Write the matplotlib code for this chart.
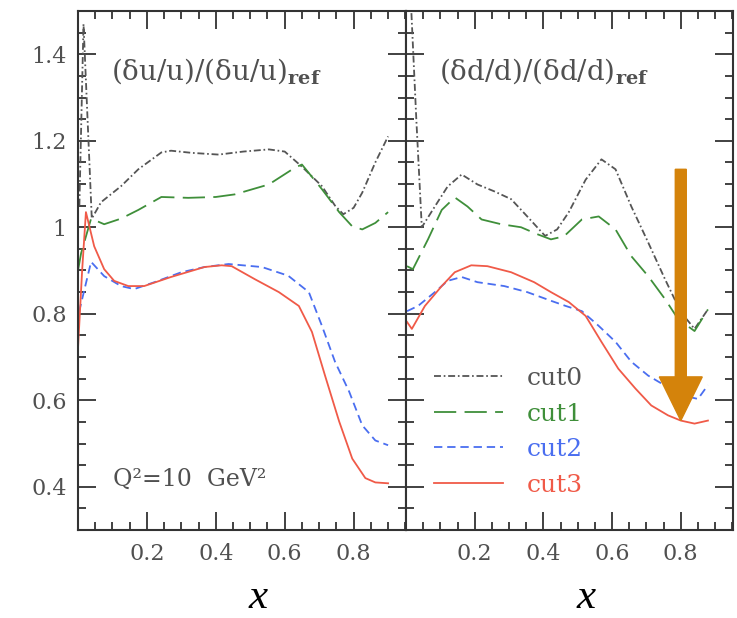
import matplotlib
matplotlib.use("Agg")
import matplotlib.pyplot as plt
from matplotlib.patches import FancyArrow
from matplotlib.ticker import MultipleLocator, FixedLocator

plt.rcParams['lines.scale_dashes'] = False
plt.rcParams['mathtext.fontset'] = 'dejavuserif'

# ---- data ----
# left panel: (du/u)/(du/u)_ref
cut0_u_x = [0.004, 0.016, 0.04, 0.067, 0.125, 0.175, 0.242, 0.27, 0.33, 0.408, 0.48, 0.554, 0.60, 0.65, 0.708, 0.746, 0.77, 0.80, 0.825, 0.863, 0.9]
cut0_u_y = [1.05, 1.47, 1.02, 1.058, 1.095, 1.134, 1.173, 1.177, 1.172, 1.168, 1.175, 1.18, 1.175, 1.14, 1.095, 1.05, 1.03, 1.045, 1.08, 1.15, 1.21]
cut1_u_x = [0.0, 0.009, 0.038, 0.076, 0.125, 0.175, 0.242, 0.32, 0.40, 0.455, 0.554, 0.63, 0.65, 0.708, 0.758, 0.796, 0.825, 0.863, 0.9]
cut1_u_y = [0.90, 0.94, 1.02, 1.007, 1.02, 1.04, 1.07, 1.068, 1.07, 1.076, 1.099, 1.138, 1.145, 1.088, 1.035, 1.002, 0.995, 1.01, 1.035]
cut2_u_x = [0.003, 0.038, 0.076, 0.125, 0.163, 0.222, 0.30, 0.367, 0.437, 0.534, 0.61, 0.67, 0.708, 0.746, 0.787, 0.825, 0.863, 0.9]
cut2_u_y = [0.804, 0.92, 0.887, 0.864, 0.857, 0.873, 0.896, 0.908, 0.915, 0.908, 0.888, 0.85, 0.772, 0.689, 0.62, 0.542, 0.507, 0.496]
cut3_u_x = [0.0, 0.012, 0.023, 0.047, 0.076, 0.105, 0.146, 0.192, 0.27, 0.367, 0.417, 0.446, 0.513, 0.583, 0.641, 0.679, 0.717, 0.758, 0.796, 0.834, 0.863, 0.9]
cut3_u_y = [0.72, 0.90, 1.035, 0.956, 0.903, 0.876, 0.864, 0.864, 0.885, 0.908, 0.912, 0.91, 0.88, 0.85, 0.818, 0.758, 0.657, 0.551, 0.465, 0.42, 0.41, 0.408]

# right panel: (dd/d)/(dd/d)_ref
cut0_d_x = [0.012, 0.03, 0.046, 0.084, 0.121, 0.162, 0.208, 0.257, 0.306, 0.353, 0.405, 0.44, 0.474, 0.523, 0.569, 0.61, 0.656, 0.705, 0.754, 0.80, 0.84, 0.879]
cut0_d_y = [1.56, 1.25, 1.0, 1.048, 1.094, 1.122, 1.099, 1.083, 1.065, 1.025, 0.98, 0.995, 1.035, 1.11, 1.157, 1.134, 1.048, 0.965, 0.88, 0.804, 0.765, 0.81]
cut1_d_x = [0.003, 0.02, 0.064, 0.104, 0.142, 0.179, 0.22, 0.277, 0.335, 0.382, 0.422, 0.46, 0.512, 0.561, 0.61, 0.656, 0.705, 0.754, 0.792, 0.84, 0.879]
cut1_d_y = [0.91, 0.903, 0.972, 1.04, 1.069, 1.048, 1.018, 1.007, 1.0, 0.984, 0.972, 0.979, 1.018, 1.025, 0.995, 0.933, 0.887, 0.834, 0.788, 0.76, 0.81]
cut2_d_x = [0.003, 0.035, 0.084, 0.121, 0.162, 0.208, 0.286, 0.353, 0.422, 0.465, 0.512, 0.561, 0.61, 0.656, 0.705, 0.754, 0.80, 0.85, 0.879]
cut2_d_y = [0.806, 0.818, 0.85, 0.876, 0.885, 0.873, 0.864, 0.85, 0.83, 0.818, 0.806, 0.772, 0.735, 0.689, 0.657, 0.634, 0.612, 0.603, 0.635]
cut3_d_x = [0.003, 0.017, 0.055, 0.104, 0.142, 0.19, 0.237, 0.306, 0.373, 0.422, 0.474, 0.523, 0.569, 0.618, 0.668, 0.714, 0.763, 0.80, 0.84, 0.879]
cut3_d_y = [0.781, 0.765, 0.818, 0.864, 0.896, 0.912, 0.91, 0.896, 0.873, 0.85, 0.827, 0.795, 0.735, 0.673, 0.627, 0.588, 0.565, 0.553, 0.546, 0.553]

labels = ['cut0', 'cut1', 'cut2', 'cut3']
colors = ['#555555', '#3f8f3a', '#4a6ef0', '#f05a48']
dashes = [(0, (5, 2, 1.2, 2)), (0, (16, 6)), (0, (6, 3.5)), '-']

xticks = [0.2, 0.4, 0.6, 0.8]
xtick_labels = ['0.2', '0.4', '0.6', '0.8']
yticks = [0.4, 0.6, 0.8, 1.0, 1.2, 1.4]
ytick_labels = ['0.4', '0.6', '0.8', '1', '1.2', '1.4']

serif = 'DejaVu Serif'
txt_col = '#505050'
spine_col = '#333333'

fig = plt.figure(figsize=(7.37, 6.18), dpi=100)
W, H = 737, 618
ax1 = fig.add_axes([78 / W, 1 - 530 / H, 328 / W, 519 / H])
ax2 = fig.add_axes([406 / W, 1 - 530 / H, 327 / W, 519 / H])

panels = [
    (ax1, [(cut0_u_x, cut0_u_y), (cut1_u_x, cut1_u_y), (cut2_u_x, cut2_u_y), (cut3_u_x, cut3_u_y)]),
    (ax2, [(cut0_d_x, cut0_d_y), (cut1_d_x, cut1_d_y), (cut2_d_x, cut2_d_y), (cut3_d_x, cut3_d_y)]),
]

for ax, series in panels:
    for (xs, ys), lab, c, ls in zip(series, labels, colors, dashes):
        ax.plot(xs, ys, color=c, linestyle=ls, lw=1.3, label=lab)
    ax.set_xlim(0, 0.952)
    ax.set_ylim(0.3, 1.5)
    ax.xaxis.set_major_locator(FixedLocator(xticks))
    ax.xaxis.set_minor_locator(MultipleLocator(0.05))
    ax.yaxis.set_major_locator(FixedLocator(yticks))
    ax.yaxis.set_minor_locator(MultipleLocator(0.05))
    ax.tick_params(which='both', direction='in', top=True, right=True,
                   color=spine_col, width=1.3)
    ax.tick_params(which='major', length=13)
    ax.tick_params(which='minor', length=6)
    ax.tick_params(axis='x', which='major', pad=9)
    ax.tick_params(axis='y', which='major', pad=8)
    for sp in ax.spines.values():
        sp.set_color(spine_col)
        sp.set_linewidth(1.5)
    ax.set_xticklabels(xtick_labels, family=serif, fontsize=16, color=txt_col)
    # big italic axis label under each panel
    ax.text(0.55, -0.168, 'x', transform=ax.transAxes, ha='center', va='bottom',
            family='Liberation Serif', style='italic', fontsize=31, color='black')

ax1.set_yticklabels(ytick_labels, family=serif, fontsize=16, color=txt_col)
ax2.set_yticklabels([])

ax1.text(0.1, 0.884, r'(δu/u)/(δu/u)$_{\mathbf{ref}}$', transform=ax1.transAxes,
         family=serif, fontsize=20, color=txt_col, va='center')
ax2.text(0.1, 0.884, r'(δd/d)/(δd/d)$_{\mathbf{ref}}$', transform=ax2.transAxes,
         family=serif, fontsize=20, color=txt_col, va='center')
ax1.text(0.108, 0.097, 'Q²=10  GeV²', transform=ax1.transAxes,
         family=serif, fontsize=17, color=txt_col, va='center')

leg = ax2.legend(loc='upper left', bbox_to_anchor=(0.085, 0.314), frameon=False,
                 prop={'family': serif, 'size': 18}, handlelength=2.75,
                 handletextpad=0.95, labelspacing=0.5, borderpad=0,
                 borderaxespad=0, labelcolor='linecolor')

arrow = FancyArrow(0.8, 1.134, 0, -0.581, width=0.032, head_width=0.125,
                   head_length=0.101, length_includes_head=True,
                   color='#d4830b', zorder=5)
ax2.add_patch(arrow)

fig.savefig('out.png', dpi=100)
